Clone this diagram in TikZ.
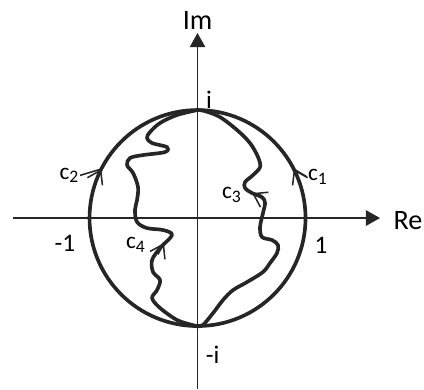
\documentclass[tikz,border=0pt]{standalone}
\usepackage{fontspec}
\setmainfont{Carlito}
\usetikzlibrary{arrows.meta}

\newcommand{\csub}[1]{c\raisebox{-0.35ex}{\fontsize{12.5}{14}\selectfont #1}}

\tikzset{
  axis/.style={black!85, line width=0.8pt, -{Triangle[length=10pt, width=11pt]}},
  curve/.style={black!85, line width=2.6pt, line join=round},
  barb/.style={black!85, line width=1.1pt, -{Straight Barb[length=9pt, width=12pt]}},
  lead/.style={black!85, line width=1.1pt},
  big/.style={font=\fontsize{20}{24}\selectfont},
  num/.style={font=\fontsize{18}{22}\selectfont},
  cname/.style={font=\fontsize{16.5}{19}\selectfont, inner sep=1pt}
}

\begin{document}
\begin{tikzpicture}[x=2.7cm,y=2.7cm]
\useasboundingbox (-1.829,-1.583) rectangle (2.097,2.019);
\draw[axis] (-1.708,0) -- (1.69,0);
\draw[axis] (0,-1.583) -- (0,1.713);
\draw[curve] (0,0) circle (1);
% left path c4
\draw[curve] plot[smooth, tension=0.55] coordinates {
  (0,-1) (-0.05,-0.99) (-0.19,-0.944) (-0.347,-0.833) (-0.421,-0.741)
  (-0.375,-0.667) (-0.347,-0.574) (-0.412,-0.5) (-0.421,-0.389)
  (-0.347,-0.278) (-0.236,-0.157) (-0.319,-0.111) (-0.468,-0.093)
  (-0.56,-0.037) (-0.579,0.074) (-0.56,0.167) (-0.551,0.287)
  (-0.597,0.417) (-0.653,0.491) (-0.625,0.556) (-0.505,0.583)
  (-0.301,0.611) (-0.282,0.657) (-0.421,0.694) (-0.468,0.741)
  (-0.44,0.796) (-0.347,0.88) (-0.19,0.954) (0,1)};
% right path c3
\draw[curve] plot[smooth, tension=0.55] coordinates {
  (0,-1) (0.05,-0.99) (0.144,-0.88) (0.236,-0.759) (0.329,-0.667)
  (0.458,-0.593) (0.606,-0.5) (0.671,-0.417) (0.736,-0.324)
  (0.745,-0.25) (0.69,-0.204) (0.597,-0.176) (0.579,-0.083)
  (0.606,0.046) (0.625,0.139) (0.597,0.194) (0.505,0.231)
  (0.44,0.278) (0.44,0.333) (0.514,0.398) (0.579,0.472)
  (0.56,0.565) (0.486,0.694) (0.366,0.815) (0.208,0.935)
  (0.07,0.99) (0,1)};
\coordinate (t1) at (27:1);
\coordinate (t2) at (153:1);
\coordinate (t3) at (0.505,0.231);
\coordinate (t4) at (-0.31,-0.231);
\draw[barb] (21:1) arc[start angle=21, end angle=27, radius=1];
\draw[barb] (159:1) arc[start angle=159, end angle=153, radius=1];
\draw[barb] (t3) ++(-28:0.12) -- (t3);
\draw[barb] (t4) ++(242:0.12) -- (t4);
\node[big] (im) at (0,1.833) {Im};
\node[big] (re) at (1.949,-0.02) {Re};
\node[num] (ione) at (0.106,1.093) {i};
\node[num] (imin) at (0.139,-1.269) {-i};
\node[num] (rmin) at (-1.227,-0.236) {-1};
\node[num] (rone) at (1.144,-0.25) {1};
\node[cname] (c1) at (1.11,0.385) {\csub{1}};
\node[cname] (c2) at (-1.19,0.395) {\csub{2}};
\node[cname] (c3) at (0.315,0.21) {\csub{3}};
\node[cname] (c4) at (-0.575,-0.25) {\csub{4}};
\draw[lead] (c1.west) -- (t1);
\draw[lead] (c2.east) -- (t2);
\end{tikzpicture}
\end{document}
